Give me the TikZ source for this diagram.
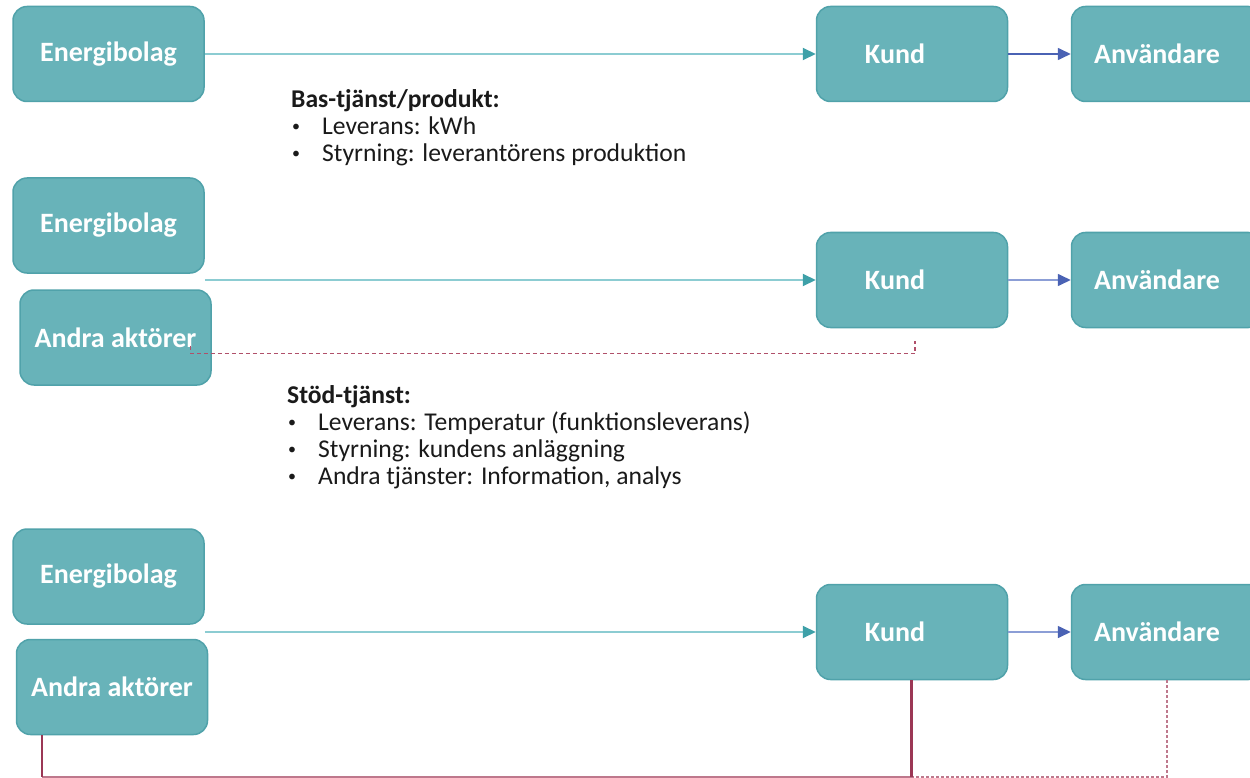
\documentclass[tikz,border=0pt]{standalone}
\usepackage{fontspec}
\setmainfont{Carlito}
\usetikzlibrary{arrows.meta,calc}
\definecolor{boxfill}{RGB}{104,179,185}
\definecolor{boxline}{RGB}{80,162,170}
\definecolor{tealline}{RGB}{140,204,210}
\definecolor{tealhead}{RGB}{62,160,168}
\definecolor{blueline}{RGB}{74,98,180}
\definecolor{lightblue}{RGB}{140,158,214}
\definecolor{darkmaroon}{RGB}{155,55,85}
\definecolor{pinkline}{RGB}{190,120,140}
\definecolor{dashmaroon}{RGB}{176,80,106}
\definecolor{txt}{RGB}{26,26,26}
\begin{document}
\begin{tikzpicture}[x=1pt,y=-1pt,
  box/.style={draw=boxline, line width=1.5pt, fill=boxfill, rounded corners=14pt,
    minimum width=191pt, minimum height=95pt, inner sep=0pt, text=white,
    font=\fontsize{28}{32}\selectfont\bfseries},
  tealarrow/.style={draw=tealline, line width=2pt,
    -{Triangle[length=13pt,width=12pt,color=tealhead]}},
  bluearrow/.style={draw=#1, line width=1.6pt,
    -{Triangle[length=13pt,width=12pt,color=blueline]}},
  line/.style={anchor=base west, inner sep=0pt, text=txt, font=\fontsize{25.6}{27}\selectfont},
  head/.style={line, font=\fontsize{25.6}{27}\selectfont\bfseries},
  bul/.style={anchor=base west, inner sep=0pt, text=txt, font=\fontsize{16}{16}\selectfont},
  mdash/.style={draw=dashmaroon, line width=1.4pt, dash pattern=on 4pt off 3pt},
  pdash/.style={draw=pinkline, line width=1.5pt, dash pattern=on 3pt off 2pt},
]
\useasboundingbox (0,0) rectangle (1250,778);
\clip (0,0) rectangle (1250,778);
\fill[white] (0,0) rectangle (1250,778);

% Row 1
\node[box] (e1) at (108.5,54) {Energibolag};
\node[box] (k1) at (912,54) {Kund\hspace*{34pt}};
\node[box] (u1) at (1167,54) {Användare\hspace*{20pt}};
\draw[tealarrow] (e1.east) -- (k1.west);
\draw[bluearrow=blueline] (k1.east) -- (u1.west);

% Text block 1
\node[head] (t1) at (291,108) {Bas-tjänst/produkt:};
\node[bul] (b11) at (292,132) {•};
\node[line] (l11) at (322,135) {Leverans: kWh};
\node[bul] (b12) at (292,159) {•};
\node[line] (l12) at (322,162) {Styrning: leverantörens produktion};

% Row 2
\node[box] (e2) at (108.5,225.5) {Energibolag};
\node[box] (a2) at (115.5,337.5) {Andra aktörer};
\node[box] (k2) at (912,280) {Kund\hspace*{34pt}};
\node[box] (u2) at (1167,280) {Användare\hspace*{20pt}};
\draw[tealarrow] (e2.east |- k2.west) -- (k2.west);
\draw[bluearrow=lightblue] (k2.east) -- (u2.west);
\draw[mdash] ([shift={(-21,8)}]a2.east) -- ++(0,8) -| ([shift={(3,13)}]k2.south);

% Text block 2
\node[head] (t2) at (287,403) {Stöd-tjänst:};
\node[bul] (b21) at (288,427) {•};
\node[line] (l21) at (318,430) {Leverans: Temperatur (funktionsleverans)};
\node[bul] (b22) at (288,454) {•};
\node[line] (l22) at (318,457) {Styrning: kundens anläggning};
\node[bul] (b23) at (288,481) {•};
\node[line] (l23) at (318,484) {Andra tjänster: Information, analys};

% Row 3
\node[box] (e3) at (108.5,576.5) {Energibolag};
\node[box] (a3) at (112,687) {Andra aktörer};
\node[box] (k3) at (912,632) {Kund\hspace*{34pt}};
\node[box] (u3) at (1167,632) {Användare\hspace*{20pt}};
\draw[tealarrow] (e3.east |- k3.west) -- (k3.west);
\draw[bluearrow=lightblue] (k3.east) -- (u3.west);

\coordinate (c1) at (42,777);
\coordinate (c2) at (911,777);
\coordinate (c3) at (1167,777);
\draw[pinkline, line width=1.5pt] (c1) -- (c2);
\draw[pdash] (c2) -- (c3) -- (u3.south);
\draw[darkmaroon, line width=2.5pt] (a3.south -| c1) -- (c1);
\draw[darkmaroon, line width=3pt] (k3.south -| c2) -- (c2);
\end{tikzpicture}
\end{document}
